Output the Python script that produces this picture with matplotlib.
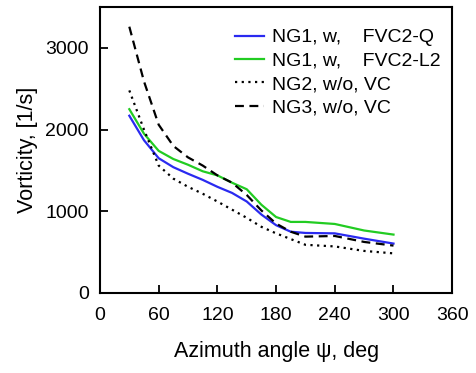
import matplotlib
matplotlib.use("Agg")
import matplotlib.pyplot as plt

# azimuth angle, deg
psi = [30, 45, 60, 75, 90, 105, 120, 135, 150, 165, 180, 195, 210, 240, 270, 300]

# vorticity, 1/s
ng1_q = [2170, 1870, 1650, 1540, 1460, 1385, 1300, 1225, 1120, 960, 830, 750, 735, 730, 665, 605]
ng1_l2 = [2250, 1950, 1740, 1640, 1570, 1490, 1440, 1350, 1270, 1080, 930, 870, 870, 845, 765, 715]
ng2 = [2480, 2000, 1560, 1400, 1300, 1215, 1120, 1020, 920, 810, 730, 660, 590, 570, 515, 485]
ng3 = [3260, 2590, 2060, 1800, 1660, 1560, 1440, 1350, 1200, 1010, 850, 750, 690, 698, 625, 580]

plt.rcParams["font.family"] = ["Liberation Sans", "DejaVu Sans"]

fig = plt.figure(figsize=(4.76, 3.73), dpi=100)
ax = fig.add_axes([0.210, 0.2145, 0.740, 0.7665])

ax.plot(psi, ng1_q, color="#2a2af0", lw=1.6, label="NG1, w,    FVC2-Q")
ax.plot(psi, ng1_l2, color="#22cc22", lw=1.6, label="NG1, w,    FVC2-L2")
ax.plot(psi, ng2, color="black", lw=1.6, ls=(0, (1, 2)), label="NG2, w/o, VC")
ax.plot(psi, ng3, color="black", lw=1.6, ls=(0, (4, 2.5)), label="NG3, w/o, VC")

ax.set_xlim(0, 360)
ax.set_ylim(0, 3500)
ax.set_xticks(range(0, 361, 60))
ax.set_yticks([0, 1000, 2000, 3000])
ax.tick_params(direction="in", length=6, width=1.3, labelsize=14)
ax.tick_params(axis="x", pad=10)
ax.tick_params(axis="y", pad=8)
for s in ax.spines.values():
    s.set_linewidth(1.5)

ax.set_xlabel("Azimuth angle ψ, deg", fontsize=15.5, labelpad=12)
ax.set_ylabel("Vorticity, [1/s]", fontsize=15.5, labelpad=5)

ax.legend(loc="upper right", frameon=False, fontsize=14, handlelength=1.5,
          handletextpad=0.4, labelspacing=0.3, borderaxespad=0.2,
          bbox_to_anchor=(1.0, 0.965))

fig.savefig("out.png", dpi=100)
